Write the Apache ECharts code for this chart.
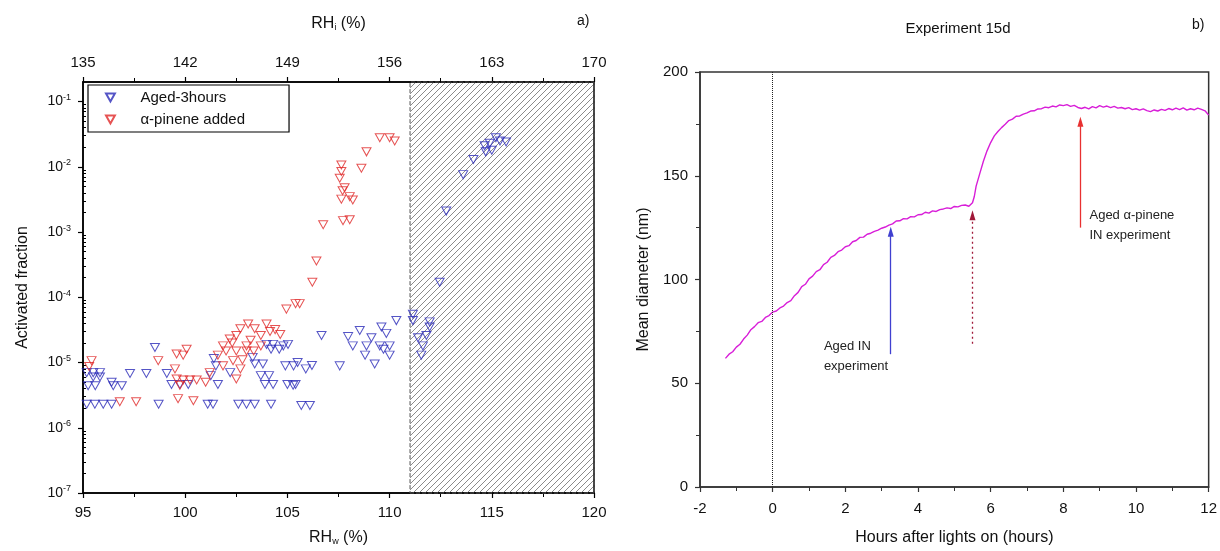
<!DOCTYPE html>
<html>
<head>
<meta charset="utf-8">
<title>Activated fraction / Experiment 15d</title>
<script src="https://cdn.jsdelivr.net/npm/echarts@6.0.0/dist/echarts.min.js"></script>
<style>
html, body { margin: 0; padding: 0; background: #fff; }
#main { width: 1220px; height: 551px; }
</style>
</head>
<body>
<div id="main"></div>
<script>
// a) activated fraction vs RHw
var agedRH = [95.18, 95.5, 95.83, 95.5, 95.83, 95.25, 95.6, 96.48, 96.9, 96.4, 95.18, 95.58, 95.99, 96.4,
    97.3, 98.1, 98.52, 98.7, 99.1, 99.33, 99.74, 100.15, 101.1, 101.36, 101.4, 101.5, 101.25, 101.6,
    102.6, 103.0, 103.4, 104.2, 103.98, 104.3, 105.03, 104.2, 104.6, 103.4, 103.8, 103.7, 104.1, 103.9,
    104.3, 104.9, 105.3, 105.0, 105.4, 103.3, 102.2, 105.68, 106.1, 105.28, 104.8, 105.5, 105.9, 106.2,
    106.67, 107.97, 108.2, 108.54, 108.87, 109.11, 109.6, 109.84, 109.52, 110.0, 110.33, 109.27, 107.56,
    110.0, 109.7, 108.8, 111.14, 111.39, 111.14, 111.96, 111.96, 111.8, 111.63, 111.55, 112.45, 112.77,
    113.6, 114.1, 114.65, 114.9, 115.2, 115.4, 115.7, 114.7, 115.0];
var agedFrac = [7e-6, 7e-6, 7e-6, 6e-6, 6e-6, 4.4e-6, 4.4e-6, 4.4e-6, 4.4e-6, 5e-6, 2.3e-6, 2.3e-6, 2.3e-6, 2.3e-6,
    6.8e-6, 6.8e-6, 1.7e-5, 2.3e-6, 6.8e-6, 4.6e-6, 4.6e-6, 4.6e-6, 2.3e-6, 2.3e-6, 1.15e-5, 8.9e-6, 6.3e-6, 4.6e-6,
    2.3e-6, 2.3e-6, 2.3e-6, 2.3e-6, 1.9e-5, 1.9e-5, 1.9e-5, 1.6e-5, 1.6e-5, 9.5e-6, 9.5e-6, 6.3e-6, 6.3e-6, 4.6e-6,
    4.6e-6, 8.9e-6, 8.9e-6, 4.6e-6, 4.6e-6, 1.2e-5, 7e-6, 2.2e-6, 2.2e-6, 4.5e-6, 1.8e-5, 1e-5, 8e-6, 9e-6,
    2.6e-5, 2.5e-5, 1.8e-5, 3.1e-5, 1.8e-5, 2.4e-5, 3.5e-5, 2.8e-5, 1.8e-5, 1.8e-5, 4.4e-5, 9.5e-6, 8.9e-6,
    1.3e-5, 1.6e-5, 1.3e-5, 5.5e-5, 2.4e-5, 4.4e-5, 4.2e-5, 3.5e-5, 2.6e-5, 1.8e-5, 1.3e-5, 1.7e-4, 2.1e-3,
    7.6e-3, 1.3e-2, 2.1e-2, 2.3e-2, 2.8e-2, 2.5e-2, 2.4e-2, 1.7e-2, 1.8e-2];
var pineneRH = [95.42, 95.3, 96.8, 97.6, 98.68, 99.58, 100.07, 99.9, 99.5, 99.58, 99.9, 100.23, 100.56, 99.74,
    99.65, 100.4, 101.2, 101.6, 101.85, 102.18, 102.5, 103.08, 102.7, 103.4, 103.7, 103.98, 104.15, 102.0,
    102.5, 103.0, 103.35, 101.85, 102.34, 102.8, 102.7, 102.5, 103.0, 103.7, 104.4, 104.65, 104.95, 105.4,
    105.6, 106.22, 106.42, 106.75, 107.72, 108.05, 107.64, 107.64, 107.56, 107.8, 108.05, 107.64, 108.2,
    107.7, 108.62, 108.87, 109.52, 110.0, 110.25, 102.3, 103.2, 101.0];
var pineneFrac = [1.07e-5, 8.7e-6, 2.5e-6, 2.5e-6, 1.07e-5, 1.35e-5, 1.6e-5, 1.3e-5, 8e-6, 5.6e-6, 5.4e-6, 5.4e-6, 5.4e-6, 4.5e-6,
    2.8e-6, 2.6e-6, 7e-6, 1.3e-5, 1.8e-5, 2.3e-5, 2.6e-5, 3.9e-5, 3.3e-5, 3.3e-5, 2.6e-5, 3.9e-5, 3e-5, 1.5e-5,
    1.5e-5, 1.5e-5, 1.5e-5, 8.9e-6, 1.07e-5, 1.1e-5, 8e-6, 5.6e-6, 1.8e-5, 1.8e-5, 3.2e-5, 2.7e-5, 6.6e-5, 8e-5,
    8e-5, 1.7e-4, 3.6e-4, 1.3e-3, 1.5e-3, 1.55e-3, 1.07e-2, 8.5e-3, 6.7e-3, 4.8e-3, 3.5e-3, 3.2e-3, 3.1e-3,
    4.3e-3, 9.5e-3, 1.7e-2, 2.8e-2, 2.8e-2, 2.5e-2, 2e-5, 2.2e-5, 5e-6];
var hatchFrom = 111;   // RHw where the hatched part starts

// b) mean diameter vs hours after lights on
var hours = [-1.3, -1.2, -1.1, -1.0, -0.9, -0.8, -0.7, -0.6, -0.5, -0.4, -0.3, -0.2, -0.1, 0.0,
    0.1, 0.2, 0.3, 0.4, 0.5, 0.6, 0.7, 0.8, 0.9, 1.0, 1.1, 1.2, 1.3, 1.4, 1.5, 1.6, 1.7, 1.8, 1.9, 2.0,
    2.1, 2.2, 2.3, 2.4, 2.5, 2.6, 2.7, 2.8, 2.9, 3.0, 3.1, 3.2, 3.3, 3.4, 3.5, 3.6, 3.7, 3.8, 3.9, 4.0,
    4.1, 4.2, 4.3, 4.4, 4.5, 4.6, 4.7, 4.8, 4.9, 5.0, 5.1, 5.2, 5.3, 5.4, 5.5, 5.55, 5.6, 5.7, 5.8, 5.9,
    6.0, 6.1, 6.2, 6.3, 6.4, 6.5, 6.6, 6.7, 6.8, 6.9, 7.0, 7.1, 7.2, 7.3, 7.4, 7.5, 7.6, 7.7, 7.8, 7.9,
    8.0, 8.1, 8.2, 8.3, 8.4, 8.5, 8.6, 8.7, 8.8, 8.9, 9.0, 9.1, 9.2, 9.3, 9.4, 9.5, 9.6, 9.7, 9.8, 9.9,
    10.0, 10.1, 10.2, 10.3, 10.4, 10.5, 10.6, 10.7, 10.8, 10.9, 11.0, 11.1, 11.2, 11.3, 11.4, 11.5, 11.6,
    11.7, 11.8, 11.9, 12.0];
var diameter = [62, 64, 65.2, 67.4, 68.8, 71.3, 73.2, 75.8, 77.3, 79.2, 79.8, 81.7, 82.6, 84.3,
    84.8, 86.3, 87.2, 88.9, 89.8, 92.2, 93.8, 96.6, 97.7, 100.3, 101.6, 103.8, 104.7, 107.2, 108.3, 110.7, 111.6, 113.4, 114.2, 115.8,
    116.3, 118.2, 118.8, 120.3, 120.4, 121.8, 122.3, 123.2, 123.8, 124.7, 125.3, 126.2, 126.8, 128.2, 128.3, 129.3, 129.2, 130.3, 130.2, 131.2,
    131.3, 132.4, 132.0, 133.1, 132.8, 133.7, 134.0, 134.5, 134.2, 135.2, 135.0, 135.7, 135.9, 135.3, 137, 140, 145, 151, 157, 162,
    166, 169.2, 171.3, 173.2, 174.8, 176.6, 177.3, 178.7, 178.8, 179.7, 180.3, 181.2, 181.3, 182.2, 182.3, 183.1, 182.8, 183.6, 183.2, 184.1,
    183.8, 184.3, 183.4, 183.9, 182.9, 182.4, 183.0, 182.2, 183.3, 182.7, 183.8, 183.1, 183.6, 182.8, 183.4, 182.6, 182.9, 182.3, 182.8, 181.9,
    182.3, 181.6, 182.2, 181.4, 180.9, 181.7, 181.2, 182.0, 181.5, 182.4, 181.8, 182.6, 181.9, 182.7, 181.6, 182.3, 181.8,
    182.6, 182.0, 181.3, 179.2];

var leftFont = 'Liberation Sans, Arial, sans-serif';
var triDown = 'path://M0,0 L10,0 L5,9 Z';

function zipPts(xs, ys){
    var out = [];
    for(var i = 0; i < xs.length; i++){
        out.push([xs[i], ys[i]]);
    }
    return out;
}

// diagonal hatching tile for the markArea
function hatchPattern(){
    var c = document.createElement('canvas');
    var s = 6;
    c.width = s; c.height = s;
    var g = c.getContext('2d');
    g.strokeStyle = 'rgba(60,60,60,0.75)';
    g.lineWidth = 0.8;
    g.beginPath();
    g.moveTo(0, s); g.lineTo(s, 0);
    g.moveTo(-1, 1); g.lineTo(1, -1);
    g.moveTo(s - 1, s + 1); g.lineTo(s + 1, s - 1);
    g.stroke();
    return c;
}

//log minor ticks 2..9 in every decade
var logMinor = [];
for(var e = -7; e < 0; e++){
    for(var k = 2; k <= 9; k++){
        var v = k * Math.pow(10, e);
        if(v < 0.2) logMinor.push(v);
    }
}

function expLabel(v){
    var p = Math.round(Math.log(v) / Math.LN10);
    return '10{s|-' + Math.abs(p) + '}';
}

var axisBlack = {onZero: false, lineStyle: {color: '#000', width: 1.5}};
var axisGrey = {onZero: false, lineStyle: {color: '#333', width: 1.5}};

var option = {
    backgroundColor: '#fff',
    animation: false,
    textStyle: {fontFamily: leftFont},
    title: [{
        text: 'Experiment 15d',
        left: 953, top: 16, textAlign: 'center',
        textStyle: {fontSize: 15, fontWeight: 'normal', color: '#111', fontFamily: leftFont}
    }],
    graphic: [
        {type: 'text', left: 577, top: 14, style: {text: 'a)', fontSize: 14, fill: '#111', fontFamily: leftFont}},
        {type: 'text', left: 1192, top: 18, style: {text: 'b)', fontSize: 14, fill: '#111', fontFamily: leftFont}}
    ],
    legend: {
        left: 88, top: 85,
        orient: 'vertical',
        data: ['Aged-3hours', 'α-pinene added'],
        borderColor: '#000',
        borderWidth: 1.2,
        padding: [5, 44, 5, 17],
        itemWidth: 34,
        itemHeight: 8,
        itemGap: 7,
        textStyle: {fontSize: 15, color: '#111', fontFamily: leftFont, padding: [0, 0, 0, 8]}
    },
    grid: [
        {left: 83, top: 82, width: 511, height: 411, show: true, borderColor: '#000', borderWidth: 1.5, backgroundColor: 'transparent'},
        {left: 700, top: 72, width: 510, height: 416, show: true, borderColor: '#333', borderWidth: 1.5, backgroundColor: 'transparent'}
    ],
    xAxis: [{
        gridIndex: 0, type: 'value', position: 'bottom',
        min: 95, max: 120, interval: 5,
        name: 'RH{sub|w} (%)', nameLocation: 'middle', nameGap: 36,
        nameTextStyle: {fontSize: 16, color: '#111', rich: {sub: {fontSize: 9, verticalAlign: 'bottom', padding: [8, 0, 0, 0]}}},
        axisLine: axisBlack,
        axisTick: {length: 5, lineStyle: {color: '#000', width: 1.2}},
        minorTick: {show: true, splitNumber: 2, length: 4, lineStyle: {color: '#000', width: 1}},
        axisLabel: {margin: 12, color: '#111', fontSize: 15, fontFamily: leftFont},
        splitLine: {show: false}
    }, {
        gridIndex: 0, type: 'value', position: 'top',
        min: 135, max: 170, interval: 7,
        name: 'RH{sub|i} (%)', nameLocation: 'middle', nameGap: 50,
        nameTextStyle: {fontSize: 16, color: '#111', rich: {sub: {fontSize: 9, verticalAlign: 'bottom', padding: [8, 0, 0, 0]}}},
        axisLine: axisBlack,
        axisTick: {length: 5, lineStyle: {color: '#000', width: 1.2}},
        minorTick: {show: true, splitNumber: 2, length: 4, lineStyle: {color: '#000', width: 1}},
        axisLabel: {margin: 12, color: '#111', fontSize: 15, fontFamily: leftFont},
        splitLine: {show: false}
    }, {
        gridIndex: 1, type: 'value',
        min: -2, max: 12, interval: 2,
        name: 'Hours after lights on (hours)', nameLocation: 'middle', nameGap: 43,
        nameTextStyle: {fontSize: 16, color: '#111'},
        axisLine: axisGrey,
        axisTick: {length: 5, lineStyle: {color: '#333', width: 1.2}},
        minorTick: {show: true, splitNumber: 2, length: 4, lineStyle: {color: '#333', width: 1}},
        axisLabel: {margin: 14, color: '#111', fontSize: 15, fontFamily: leftFont},
        splitLine: {show: false}
    }],
    yAxis: [{
        gridIndex: 0, type: 'log', logBase: 10,
        min: 1e-7, max: 0.2,
        name: 'Activated fraction', nameLocation: 'middle', nameGap: 52,
        nameTextStyle: {fontSize: 16, color: '#111'},
        axisLine: axisBlack,
        axisTick: {length: 5, lineStyle: {color: '#000', width: 1.2}},
        axisLabel: {
            margin: 12, color: '#111', fontSize: 14, fontFamily: leftFont, showMaxLabel: false,
            formatter: expLabel,
            rich: {s: {fontSize: 9, verticalAlign: 'top', padding: [0, 0, 8, 0]}}
        },
        splitLine: {show: false}
    }, {
        gridIndex: 0, type: 'log', logBase: 10,
        min: 1e-7, max: 0.2, position: 'left',
        axisLine: {show: false, onZero: false},
        axisTick: {show: true, inside: true, length: 3, customValues: logMinor, lineStyle: {color: '#000', width: 1}},
        axisLabel: {show: false},
        splitLine: {show: false}
    }, {
        gridIndex: 1, type: 'value',
        min: 0, max: 200, interval: 50,
        name: 'Mean diameter (nm)', nameLocation: 'middle', nameGap: 48,
        nameTextStyle: {fontSize: 16, color: '#111'},
        axisLine: axisGrey,
        axisTick: {length: 5, lineStyle: {color: '#333', width: 1.2}},
        minorTick: {show: true, splitNumber: 2, length: 4, lineStyle: {color: '#333', width: 1}},
        axisLabel: {margin: 12, color: '#111', fontSize: 15, fontFamily: leftFont},
        splitLine: {show: false}
    }],
    series: [{
        name: 'Aged-3hours',
        type: 'scatter',
        xAxisIndex: 0, yAxisIndex: 0,
        symbol: triDown,
        symbolSize: [9, 8],
        itemStyle: {color: 'rgba(0,0,0,0)', borderColor: '#2a2ab8', borderWidth: 1},
        data: zipPts(agedRH, agedFrac),
        z: 3,
        markArea: {
            silent: true,
            itemStyle: {
                color: {image: hatchPattern(), repeat: 'repeat'},
                borderColor: '#555', borderWidth: 1, borderType: 'dashed'
            },
            data: [[{xAxis: hatchFrom}, {xAxis: 120}]]
        }
    }, {
        name: 'α-pinene added',
        type: 'scatter',
        xAxisIndex: 0, yAxisIndex: 0,
        symbol: triDown,
        symbolSize: [9, 8],
        itemStyle: {color: 'rgba(0,0,0,0)', borderColor: '#e02828', borderWidth: 1},
        data: zipPts(pineneRH, pineneFrac),
        z: 4
    }, {
        name: 'diameter',
        type: 'line',
        xAxisIndex: 2, yAxisIndex: 2,
        showSymbol: false,
        lineStyle: {color: '#d81ed8', width: 1.4},
        data: zipPts(hours, diameter),
        markLine: {
            silent: true,
            animation: false,
            symbol: ['none', 'triangle'],
            symbolSize: [6, 10],
            label: {show: false},
            data: [
                [{coord: [0, 0], symbol: 'none', lineStyle: {color: '#222', type: 'dotted', width: 1}},
                 {coord: [0, 200], symbol: 'none'}],
                [{coord: [3.25, 64], lineStyle: {color: '#4040d0', type: 'solid', width: 1.3}, itemStyle: {color: '#1818c0'}},
                 {coord: [3.25, 123], itemStyle: {color: '#1818c0'}}],
                [{coord: [5.5, 69], lineStyle: {color: '#a01838', type: [2, 3], width: 1.3}, itemStyle: {color: '#700010'}},
                 {coord: [5.5, 131], itemStyle: {color: '#700010'}}],
                [{coord: [8.47, 125], lineStyle: {color: '#e83030', type: 'solid', width: 1.3}, itemStyle: {color: '#e81818'}},
                 {coord: [8.47, 176], itemStyle: {color: '#e81818'}}]
            ]
        },
        markPoint: {
            silent: true,
            symbol: 'circle',
            symbolSize: 0,
            label: {
                show: true, position: 'right', distance: 0,
                color: '#222', fontSize: 13, lineHeight: 20, fontFamily: leftFont, align: 'left'
            },
            data: [
                {coord: [1.41, 63], label: {formatter: 'Aged IN\nexperiment'}},
                {coord: [8.72, 126], label: {formatter: 'Aged α-pinene\nIN experiment'}}
            ]
        }
    }]
};

var myCharts = echarts.init(document.getElementById('main'), null, {renderer: 'canvas'});
myCharts.setOption(option);
</script>
</body>
</html>
